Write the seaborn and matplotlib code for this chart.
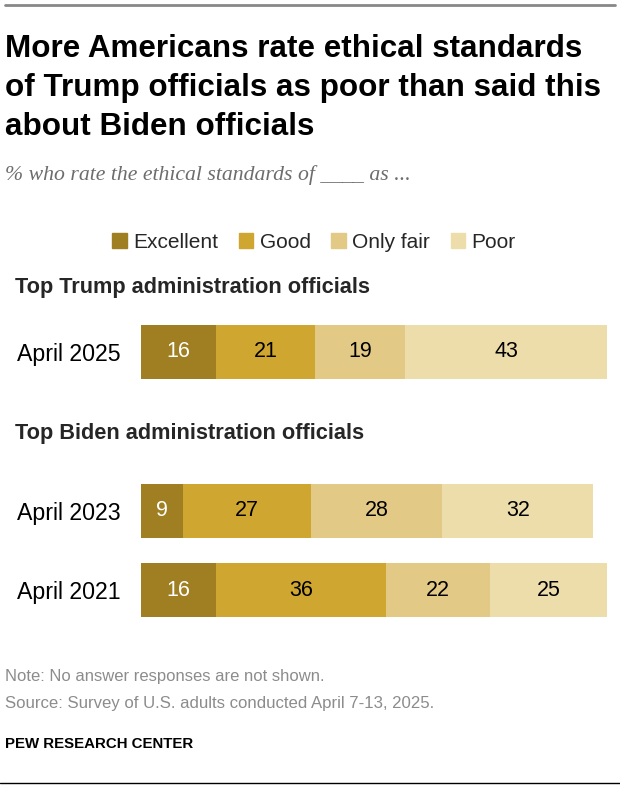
import matplotlib
matplotlib.use("Agg")
import matplotlib.pyplot as plt
import matplotlib.patches as mpatches
import pandas as pd
import seaborn as sns

# chart data
rows = ["April 2025", "April 2023", "April 2021"]
groups = ["Top Trump administration officials", "Top Biden administration officials"]
categories = ["Excellent", "Good", "Only fair", "Poor"]
excellent = [16, 9, 16]
good = [21, 27, 36]
only_fair = [19, 28, 22]
poor = [43, 32, 25]
colors = ["#A07E22", "#CFA62F", "#E2C985", "#EDDDAB"]
label_colors = ["white", "black", "black", "black"]

sns.set_theme(style="white")
plt.rcParams["font.family"] = ["Liberation Sans", "DejaVu Sans"]

W, H = 620, 788
fig = plt.figure(figsize=(W / 100, H / 100), dpi=100)


def fx(px):
    return px / W


def fy(py):
    return 1 - py / H


df = pd.DataFrame({"row": rows, "Excellent": excellent, "Good": good,
                   "Only fair": only_fair, "Poor": poor})
order = ["April 2025", " ", "April 2023", "April 2021"]

# axes placed in pixel space: row spacing ~79.5px
unit = 79.5
top = 352 - 0.5 * unit
bottom = 590 + 0.5 * unit
left, right = 141, 141 + 4.71 * 100
ax = fig.add_axes([fx(left), fy(bottom), fx(right - left), (bottom - top) / H])

# stacked bars: draw cumulative totals from the largest down
cum = df[categories].cumsum(axis=1)
for cat, col in zip(reversed(categories), reversed(colors)):
    sns.barplot(x=cum[cat], y=df["row"], order=order, orient="h", color=col,
                width=54 / unit, saturation=1, linewidth=0, ax=ax)

for i, r in df.iterrows():
    ypos = order.index(r["row"])
    start = 0
    for cat, lc in zip(categories, label_colors):
        v = r[cat]
        ax.text(start + v / 2, ypos, str(v), ha="center", va="center",
                color=lc, fontsize=15.5)
        start += v

ax.set_xlim(0, 100)
ax.set_ylim(3.5, -0.5)
ax.set_xlabel("")
ax.set_ylabel("")
ax.set_xticks([])
ax.tick_params(axis="y", length=0, pad=15)
for lab in ax.get_yticklabels():
    lab.set_fontsize(16.7)
    lab.set_color("black")
sns.despine(ax=ax, left=True, bottom=True)

# header text
fig.add_artist(plt.Line2D([fx(5), fx(615)], [fy(5), fy(5)], color="#888888", lw=2))
title_lines = ["More Americans rate ethical standards",
               "of Trump officials as poor than said this",
               "about Biden officials"]
for line, base in zip(title_lines, [57, 96, 135]):
    fig.text(fx(5), fy(base), line, ha="left", va="baseline",
             fontsize=22.6, fontweight="bold", color="black")
fig.text(fx(5), fy(180), "% who rate the ethical standards of ____ as ...", ha="left", va="baseline",
         fontsize=15.7, style="italic", color="#6d6d6d", family=["Liberation Serif", "DejaVu Serif"])

# legend
handles = [mpatches.Patch(color=c, label=l) for c, l in zip(colors, categories)]
fig.legend(handles=handles, loc="center", bbox_to_anchor=(fx(314), fy(242)), ncol=4,
           frameon=False, handlelength=0.7, handleheight=0.7, handletextpad=0.3,
           columnspacing=1.0, prop={"size": 15})

# group headers
fig.text(fx(15), fy(293), groups[0], ha="left", va="baseline", fontsize=15.7, fontweight="bold")
fig.text(fx(15), fy(439), groups[1], ha="left", va="baseline", fontsize=15.7, fontweight="bold")

# footer
fig.text(fx(5), fy(681), "Note: No answer responses are not shown.", ha="left", va="baseline",
         fontsize=12, color="#8c8c8c")
fig.text(fx(5), fy(708), "Source: Survey of U.S. adults conducted April 7-13, 2025.", ha="left", va="baseline",
         fontsize=12.1, color="#8c8c8c")
fig.text(fx(5), fy(748), "PEW RESEARCH CENTER", ha="left", va="baseline",
         fontsize=10.8, fontweight="bold", color="black")
fig.add_artist(plt.Line2D([0, 1], [fy(783), fy(783)], color="black", lw=1))

fig.savefig("out.png", dpi=100)
